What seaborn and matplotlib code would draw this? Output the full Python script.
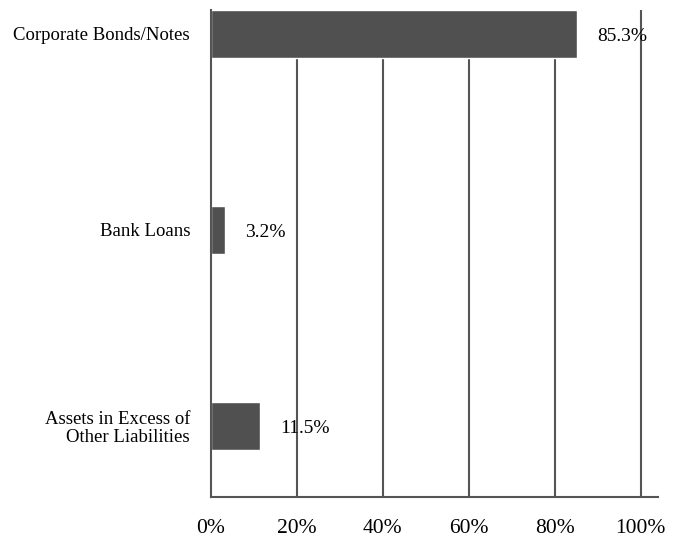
import pandas as pd
import numpy as np
import matplotlib.pyplot as plt
import seaborn as sns

# Portfolio breakdown (% of net assets)
categories = ['Corporate Bonds/Notes', 'Bank Loans', 'Assets in Excess of\nOther Liabilities']
values = [85.3, 3.2, 11.5]
value_labels = ['85.3%', '3.2%', '11.5%']
xticks = [0, 20, 40, 60, 80, 100]
xtick_labels = ['0%', '20%', '40%', '60%', '80%', '100%']

df = pd.DataFrame({'category': categories, 'value': values})

sns.set_style('white')
plt.rcParams['font.family'] = ['Liberation Serif', 'DejaVu Serif']

fig = plt.figure(figsize=(6.76, 5.4), dpi=100)
ax = fig.add_axes([0.312, 0.0796, 0.661, 0.902])

sns.barplot(data=df, x='value', y='category', orient='h', color='#505050',
            saturation=1, width=0.245, ax=ax, zorder=3)

# vertical gridlines
for x in xticks[1:]:
    ax.axvline(x, color='#555555', linewidth=1.5, zorder=1)

for i, (v, lab) in enumerate(zip(values, value_labels)):
    ax.annotate(lab, xy=(v, i), xytext=(14.5, -2), textcoords='offset points',
                ha='left', va='center', fontsize=14, color='black', zorder=5)

ax.set_xlim(0, 104)
ax.set_ylim(2.362, -0.1225)
ax.set_xticks(xticks)
ax.set_xticklabels(xtick_labels, fontsize=15.5)
ax.tick_params(axis='x', length=0, pad=16, labelcolor='black')
ax.tick_params(axis='y', length=0, pad=15, labelsize=13.5, labelcolor='black')
ax.set_xlabel('')
ax.set_ylabel('')

for s in ['top', 'right']:
    ax.spines[s].set_visible(False)
for s in ['left', 'bottom']:
    ax.spines[s].set_color('#555555')
    ax.spines[s].set_linewidth(1.5)
    ax.spines[s].set_zorder(4)

for t in ax.get_yticklabels():
    t.set_multialignment('right')
    t.set_linespacing(1.1)
    t.set_va('center_baseline')

fig.savefig('out.png', dpi=100)
